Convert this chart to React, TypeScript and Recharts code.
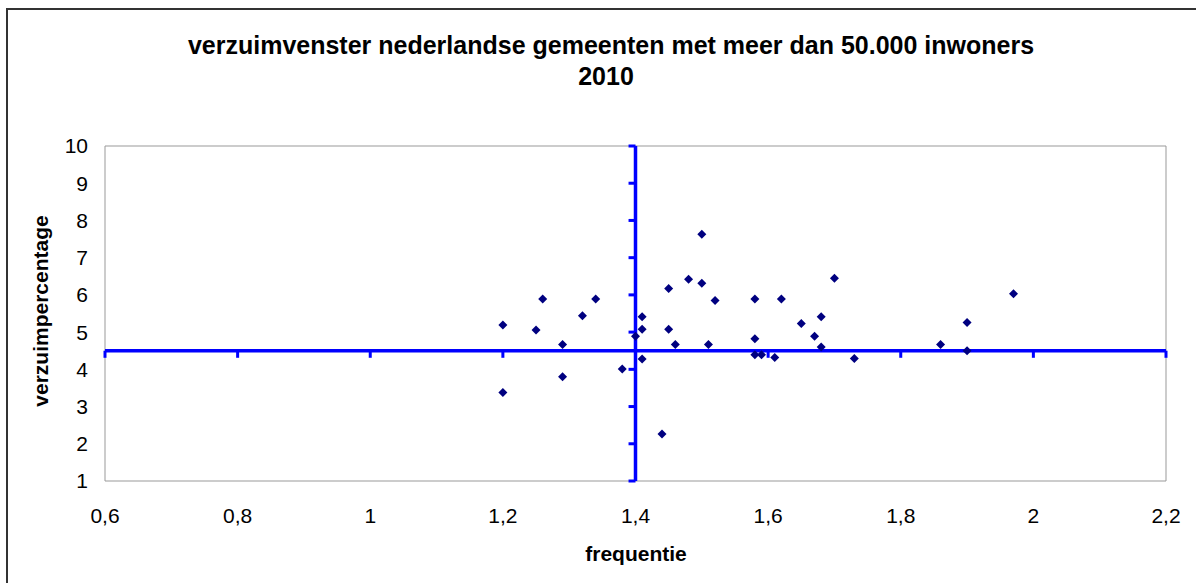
import React from "react";
import {
  ScatterChart,
  Scatter,
  XAxis,
  YAxis,
  ReferenceLine,
  ReferenceArea,
} from "recharts";

const frequentie = [
  1.2, 1.2, 1.26, 1.25, 1.29, 1.29, 1.32, 1.34, 1.38, 1.4, 1.41, 1.41, 1.41,
  1.44, 1.45, 1.45, 1.46, 1.48, 1.5, 1.5, 1.51, 1.52, 1.58, 1.58, 1.58, 1.59,
  1.61, 1.62, 1.65, 1.67, 1.68, 1.68, 1.7, 1.73, 1.86, 1.9, 1.9, 1.97,
];
const verzuim = [
  5.19, 3.38, 5.89, 5.06, 4.67, 3.8, 5.44, 5.89, 4.01, 4.89, 5.41, 5.08, 4.28,
  2.26, 6.17, 5.08, 4.67, 6.42, 7.63, 6.31, 4.67, 5.85, 5.89, 4.82, 4.39, 4.39,
  4.32, 5.89, 5.23, 4.89, 5.41, 4.6, 6.45, 4.29, 4.67, 5.26, 4.5, 6.03,
];
const xTicks = [0.6, 0.8, 1, 1.2, 1.4, 1.6, 1.8, 2, 2.2];
const yTicks = [1, 2, 3, 4, 5, 6, 7, 8, 9, 10];
const crossX = 1.4;
const crossY = 4.5;

const FONT = "'Liberation Sans', Arial, sans-serif";
const BLUE = "#0000ff";

const points = frequentie.map((f, i) => ({ f, v: verzuim[i] }));

const fmt = (v: number) => String(v).replace(".", ",");

function Diamond(props: any) {
  const { cx, cy } = props;
  if (cx == null || cy == null) return null;
  const r = 4.5;
  return (
    <polygon
      points={`${cx},${cy - r} ${cx + r},${cy} ${cx},${cy + r} ${cx - r},${cy}`}
      fill="#000080"
    />
  );
}

export default function App() {
  return (
    <div style={{ position: "absolute", left: 0, top: 0, width: 1196, height: 583, overflow: "hidden", background: "#fff" }}>
      <div
        style={{
          position: "absolute",
          left: 6,
          top: 8,
          width: 1300,
          height: 700,
          borderLeft: "2px solid #333",
          borderTop: "2px solid #333",
        }}
      />
      <div style={{ position: "absolute", left: 0, top: 0 }}>
        <ScatterChart
          width={1196}
          height={583}
          margin={{ top: 146, right: 30, bottom: 42, left: 45 }}
        >
          <XAxis
            type="number"
            dataKey="f"
            domain={[0.6, 2.2]}
            ticks={xTicks}
            interval={0}
            allowDataOverflow
            axisLine={false}
            tickLine={false}
            tickSize={0}
            tickMargin={27}
            height={60}
            tickFormatter={fmt}
            tick={{ fontSize: 21, fill: "#000", fontFamily: FONT }}
          />
          <YAxis
            type="number"
            dataKey="v"
            domain={[1, 10]}
            ticks={yTicks}
            interval={0}
            allowDataOverflow
            axisLine={false}
            tickLine={false}
            tickSize={0}
            tickMargin={17}
            width={60}
            tickFormatter={fmt}
            tick={{ fontSize: 21, fill: "#000", fontFamily: FONT }}
          />
          <ReferenceArea x1={0.6} x2={2.2} y1={1} y2={10} fill="none" stroke="#999" strokeWidth={1} />
          <ReferenceLine y={crossY} stroke={BLUE} strokeWidth={3.5} />
          <ReferenceLine x={crossX} stroke={BLUE} strokeWidth={3.5} />
          {xTicks.map((t) => (
            <ReferenceLine
              key={"xt" + t}
              segment={[
                { x: t, y: crossY },
                { x: t, y: crossY - 0.19 },
              ]}
              stroke={BLUE}
              strokeWidth={3}
            />
          ))}
          {yTicks.map((t) => (
            <ReferenceLine
              key={"yt" + t}
              segment={[
                { x: crossX, y: t },
                { x: crossX - 0.0105, y: t },
              ]}
              stroke={BLUE}
              strokeWidth={3}
            />
          ))}
          <Scatter data={points} shape={<Diamond />} isAnimationActive={false} />
        </ScatterChart>
      </div>
      <svg
        width={1196}
        height={583}
        style={{ position: "absolute", left: 0, top: 0, pointerEvents: "none" }}
        fontFamily={FONT}
        fontWeight="bold"
      >
        <text x={611} y={54} textAnchor="middle" fontSize={25}>
          verzuimvenster nederlandse gemeenten met meer dan 50.000 inwoners
        </text>
        <text x={606} y={85} textAnchor="middle" fontSize={25}>
          2010
        </text>
        <text x={636} y={561} textAnchor="middle" fontSize={21}>
          frequentie
        </text>
        <text x={48} y={311} textAnchor="middle" fontSize={21} transform="rotate(-90 48 311)">
          verzuimpercentage
        </text>
      </svg>
    </div>
  );
}
